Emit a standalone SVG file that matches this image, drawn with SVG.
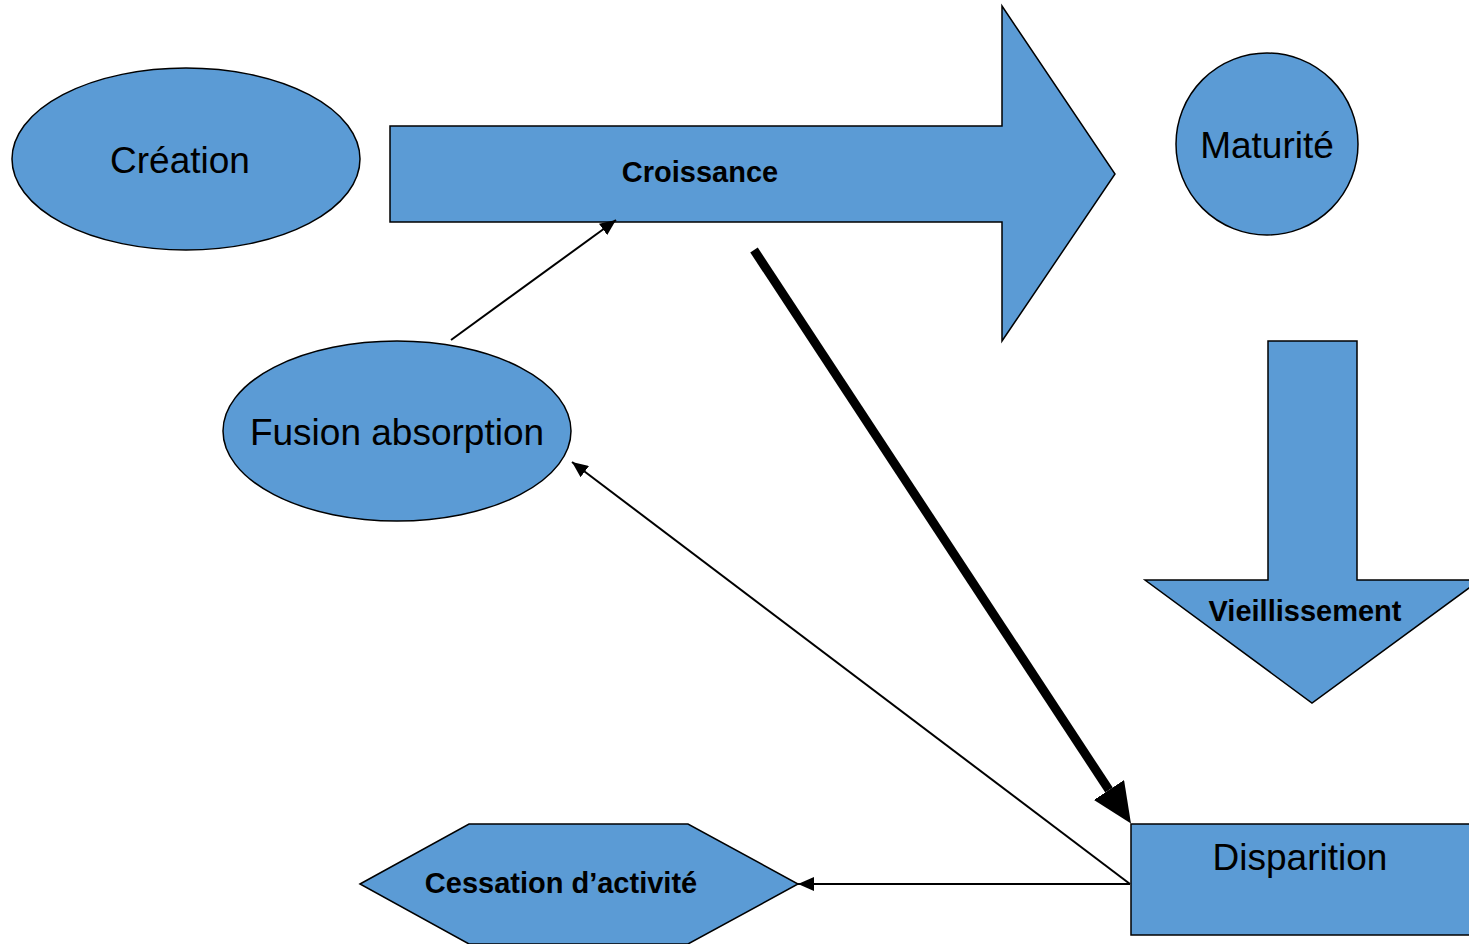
<svg xmlns="http://www.w3.org/2000/svg" width="1469" height="944" viewBox="0 0 1469 944">
  <style>
    .shape { fill: #5B9BD5; stroke: #000; stroke-width: 1.5; }
    .lbl { font-family: "Liberation Sans", Arial, sans-serif; font-size: 37px; fill: #000; text-anchor: middle; }
    .bold { font-size: 29px; font-weight: bold; }
    .conn { stroke: #000; stroke-width: 2; fill: none; }
    .heavy { stroke: #000; stroke-width: 9; fill: none; }
  </style>
  <defs>
    <marker id="tip" markerUnits="userSpaceOnUse" markerWidth="16" markerHeight="14" refX="16" refY="7" orient="auto">
      <path d="M0,0 L16,7 L0,14 z" fill="#000"/>
    </marker>
    <marker id="bigtip" markerUnits="userSpaceOnUse" markerWidth="40" markerHeight="36" refX="0" refY="18" orient="auto">
      <path d="M0,0 L40,18 L0,36 z" fill="#000"/>
    </marker>
  </defs>
  <rect width="1469" height="944" fill="#fff"/>

  <g id="creation">
    <ellipse class="shape" cx="186" cy="159" rx="174" ry="91"/>
    <text class="lbl" x="180" y="173">Création</text>
  </g>

  <g id="croissance">
    <polygon class="shape" points="390,126 1002,126 1002,6 1115,174 1002,341 1002,222 390,222"/>
    <text class="lbl bold" x="700" y="182">Croissance</text>
  </g>

  <g id="maturite">
    <circle class="shape" cx="1267" cy="144" r="91"/>
    <text class="lbl" x="1267" y="158">Maturité</text>
  </g>

  <g id="fusion">
    <ellipse class="shape" cx="397" cy="431" rx="174" ry="90"/>
    <text class="lbl" x="397" y="445">Fusion absorption</text>
  </g>

  <g id="vieillissement">
    <polygon class="shape" points="1268,341 1357,341 1357,580 1480,580 1312,703 1145,580 1268,580"/>
    <text class="lbl bold" x="1305" y="621">Vieillissement</text>
  </g>

  <g id="disparition">
    <rect class="shape" x="1131" y="824" width="345" height="111"/>
    <text class="lbl" x="1300" y="870">Disparition</text>
  </g>

  <g id="cessation">
    <polygon class="shape" points="360,884 469,824 688,824 798,884 688,944 469,944"/>
    <text class="lbl bold" x="561" y="893">Cessation d’activité</text>
  </g>

  <g id="connectors">
    <line class="conn" x1="451" y1="340" x2="616" y2="220" marker-end="url(#tip)"/>
    <line class="heavy" x1="754" y1="250" x2="1109" y2="790" marker-end="url(#bigtip)"/>
    <line class="conn" x1="1130" y1="884" x2="572" y2="462" marker-end="url(#tip)"/>
    <line class="conn" x1="1130" y1="884" x2="798" y2="884" marker-end="url(#tip)"/>
  </g>
</svg>
